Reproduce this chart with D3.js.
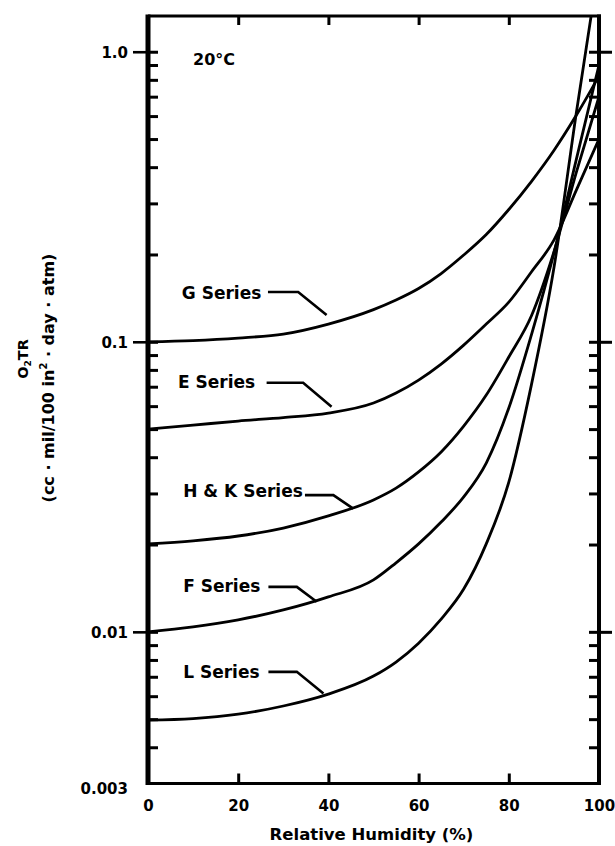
<!DOCTYPE html>
<html><head><meta charset="utf-8">
<script src="https://cdn.jsdelivr.net/npm/d3@7"></script>
<style>
body{margin:0;background:#fff}
svg{display:block;background:#fff}
text{font-family:"DejaVu Sans",sans-serif;font-weight:bold;fill:#000}
</style>
</head><body>
<svg id="chart" width="615" height="846"></svg>
<script>
// ---- data ----
const humidity = [0,10,20,30,40,50,55,60,65,70,75,80,85,90,95,100];
const gSeries  = [0.1000,0.1010,0.1030,0.1063,0.1151,0.1291,0.1393,0.1526,0.1719,0.1991,0.2343,0.2858,0.3568,0.4566,0.605,0.825];
const eSeries  = [0.0500,0.0516,0.0533,0.0548,0.0568,0.0615,0.0666,0.0738,0.0838,0.0974,0.1151,0.137,0.174,0.224,0.334,0.50];
const hkSeries = [0.0201,0.0206,0.0214,0.0228,0.0251,0.0285,0.0313,0.0356,0.0417,0.0512,0.0655,0.0886,0.1227,0.204,0.385,0.70];
const fSeries  = [0.0100,0.0104,0.0110,0.0119,0.0132,0.0151,0.0173,0.0201,0.0239,0.0292,0.0382,0.0591,0.1055,0.202,0.427,0.90];
const lSeries  = [0.00496,0.00502,0.00520,0.00555,0.0061,0.00704,0.00787,0.00914,0.01106,0.01404,0.0201,0.0328,0.0709,0.1795,0.62,2.0];
const seriesNames = ["G Series","E Series","H & K Series","F Series","L Series"];

// label anchors in data space (humidity %, O2TR)
const labelRH    = [7.5, 6.65, 7.8, 7.8, 7.8];
const labelValue = [0.141, 0.0691, 0.0292, 0.01373, 0.00691];
const leaderStartRH = [26.6, 26.3, 34.8, 26.7, 26.7];
const leaderElbowRH = [33.3, 34.4, 41.1, 33.0, 33.0];
const leaderLevel   = [0.1484, 0.0722, 0.0296, 0.01429, 0.00728];
const leaderEndRH   = [39.6, 40.7, 45.5, 37.4, 38.9];
const leaderEndVal  = [0.1236, 0.0597, 0.0266, 0.0127, 0.00613];

const yLabelTicks = [1, 0.1, 0.01, 0.003];
const yLabelText  = ["1.0", "0.1", "0.01", "0.003"];
const yMajor = [1, 0.1, 0.01];
const xLabelTicks = [0, 20, 40, 60, 80, 100];
const xInnerTicks = [20, 40, 60, 80];
const tempLabel = "20°C";
const xTitle = "Relative Humidity (%)";

// ---- layout ----
const svg = d3.select("#chart");
const pL = 148, pR = 599, pT = 16, pB = 783.5;
const x = d3.scaleLinear().domain([0, 100]).range([pL, pR]);
const y = d3.scaleLog().domain([0.003, 1.328]).range([pB, pT]);

// clip
svg.append("defs").append("clipPath").attr("id", "plot")
  .append("rect").attr("x", pL).attr("y", pT).attr("width", pR - pL).attr("height", pB - pT);

// curves
const allSeries = [gSeries, eSeries, hkSeries, fSeries, lSeries];
const line = d3.line().x((d, i) => x(humidity[i])).y(d => y(d)).curve(d3.curveMonotoneX);
svg.append("g").attr("clip-path", "url(#plot)")
  .selectAll("path").data(allSeries).join("path")
  .attr("d", line).attr("fill", "none").attr("stroke", "#000")
  .attr("stroke-width", 2.8).attr("stroke-linejoin", "round");

// minor ticks (log ticks from the scale), inward on left and right
const minor = y.ticks().filter(v => v > 0.003 && v <= 1);
svg.append("g").attr("transform", `translate(${pL},0)`)
  .call(d3.axisRight(y).tickValues(minor).tickSize(10).tickFormat(""))
  .call(g => g.select(".domain").remove())
  .selectAll("line").attr("stroke-width", 3);
svg.append("g").attr("transform", `translate(${pR},0)`)
  .call(d3.axisLeft(y).tickValues(minor).tickSize(10).tickFormat(""))
  .call(g => g.select(".domain").remove())
  .selectAll("line").attr("stroke-width", 3);

// major ticks outward
svg.append("g").attr("transform", `translate(${pL},0)`)
  .call(d3.axisLeft(y).tickValues(yMajor).tickSize(15).tickFormat(""))
  .call(g => g.select(".domain").remove())
  .selectAll("line").attr("stroke-width", 2.6);
svg.append("g").attr("transform", `translate(${pR},0)`)
  .call(d3.axisRight(y).tickValues(yMajor).tickSize(13).tickFormat(""))
  .call(g => g.select(".domain").remove())
  .selectAll("line").attr("stroke-width", 3);

// y tick labels
svg.append("g").attr("transform", `translate(${pL},0)`)
  .call(d3.axisLeft(y).tickValues(yLabelTicks).tickSize(0).tickPadding(20)
    .tickFormat((d, i) => yLabelText[i]))
  .call(g => g.select(".domain").remove())
  .selectAll("text").attr("font-size", 15).attr("font-family", "DejaVu Sans").attr("font-weight", "bold")
  .attr("dy", (d, i) => i === 3 ? "0.65em" : "0.4em");

// x ticks inward (bottom & top)
svg.append("g").attr("transform", `translate(0,${pB})`)
  .call(d3.axisTop(x).tickValues(xInnerTicks).tickSize(10).tickFormat(""))
  .call(g => g.select(".domain").remove())
  .selectAll("line").attr("stroke-width", 3);
svg.append("g").attr("transform", `translate(0,${pT})`)
  .call(d3.axisBottom(x).tickValues(xInnerTicks).tickSize(9).tickFormat(""))
  .call(g => g.select(".domain").remove())
  .selectAll("line").attr("stroke-width", 3);

// x labels
svg.append("g").attr("transform", `translate(0,${pB})`)
  .call(d3.axisBottom(x).tickValues(xLabelTicks).tickSize(0).tickPadding(17))
  .call(g => g.select(".domain").remove())
  .selectAll("text").attr("font-size", 15).attr("font-family", "DejaVu Sans").attr("font-weight", "bold");

// frame
const frame = svg.append("g").attr("stroke", "#000").attr("fill", "none");
frame.append("line").attr("x1", pL).attr("x2", pL).attr("y1", pT - 1.5).attr("y2", pB + 1.5).attr("stroke-width", 5);
frame.append("line").attr("x1", pR).attr("x2", pR).attr("y1", pT - 1.5).attr("y2", pB + 1.5).attr("stroke-width", 4);
frame.append("line").attr("x1", pL).attr("x2", pR + 2).attr("y1", pT).attr("y2", pT).attr("stroke-width", 3);
frame.append("line").attr("x1", pL).attr("x2", pR + 2).attr("y1", pB).attr("y2", pB).attr("stroke-width", 3);

// series labels and leaders
const ann = svg.append("g");
seriesNames.forEach((name, i) => {
  ann.append("text").attr("x", x(labelRH[i])).attr("y", y(labelValue[i]))
    .attr("font-size", 17).text(name);
  ann.append("path")
    .attr("d", d3.line()([
      [x(leaderStartRH[i]), y(leaderLevel[i])],
      [x(leaderElbowRH[i]), y(leaderLevel[i])],
      [x(leaderEndRH[i]), y(leaderEndVal[i])]
    ]))
    .attr("fill", "none").attr("stroke", "#000").attr("stroke-width", 2.6);
});

// temperature label
svg.append("text").attr("x", x(10)).attr("y", y(0.9)).attr("font-size", 16).text(tempLabel);

// axis titles
svg.append("text").attr("x", (pL + pR) / 2 - 2).attr("y", 839.5)
  .attr("text-anchor", "middle").attr("font-size", 16.5).text(xTitle);

const t1 = svg.append("text").attr("transform", "translate(28,359) rotate(-90)")
  .attr("text-anchor", "middle").attr("font-size", 14.5);
t1.append("tspan").text("O");
t1.append("tspan").attr("font-size", 9).attr("dy", 3).text("2");
t1.append("tspan").attr("dy", -3).text("TR");

const t2 = svg.append("text").attr("transform", "translate(54,378) rotate(-90)")
  .attr("text-anchor", "middle").attr("font-size", 16);
t2.append("tspan").text("(cc · mil/100 in");
t2.append("tspan").attr("font-size", 10).attr("dy", -7).text("2");
t2.append("tspan").attr("dy", 7).text(" · day · atm)");
</script>
</body></html>
